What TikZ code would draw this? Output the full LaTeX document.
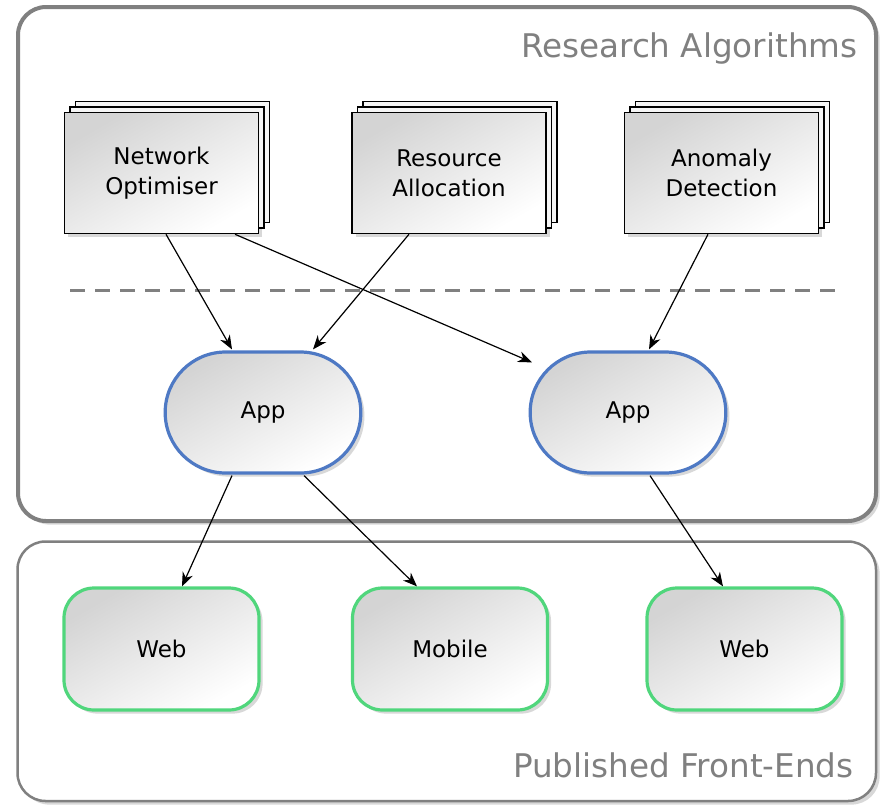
\documentclass[tikz,border=0pt]{standalone}
\usepackage{fontspec}
\setmainfont{DejaVu Sans}
\usetikzlibrary{positioning}
\usetikzlibrary{shapes.misc,shadows,arrows.meta}

\definecolor{appblue}{RGB}{78,121,196}
\definecolor{webgreen}{RGB}{80,214,124}
\definecolor{framegray}{RGB}{128,128,128}

\begin{document}
\begin{tikzpicture}[x=0.5pt,y=-0.5pt,
    softfill/.style={top color=black!17, bottom color=white, shading angle=30},
    softshadow/.style={drop shadow={shadow xshift=1.8pt, shadow yshift=-1.8pt, fill=black!30, opacity=0.5}},
    layer/.style={copy shadow={shadow xshift=#1, shadow yshift=#1, fill=black!4, draw=black, line width=0.75pt}},
    frame/.style={draw=framegray, fill=white, rounded corners=14pt, softshadow},
    title/.style={text=framegray, font=\fontsize{16.3}{20}\selectfont, anchor=base east, inner sep=0pt},
    algo/.style={rectangle, draw=black, line width=0.75pt, minimum width=97pt, minimum height=60.5pt,
        align=center, font=\fontsize{11.5}{15}\selectfont, softfill, softshadow,
        layer=5.5pt, layer=2.75pt},
    app/.style={rounded rectangle, draw=appblue, line width=1.6pt, minimum width=104.5pt, minimum height=60.5pt,
        font=\fontsize{11.5}{15}\selectfont, softfill, softshadow},
    front/.style={rectangle, rounded corners=15pt, draw=webgreen, line width=1.6pt, minimum width=97.5pt,
        minimum height=61pt, font=\fontsize{11.5}{15}\selectfont, softfill, softshadow},
    link/.style={-{Stealth[length=7pt, width=5.5pt, inset=2.2pt]}, line width=0.6pt}]

    \useasboundingbox (0,0) rectangle (880,805);

    % layer frames
    \draw[frame, line width=2pt] (18,7) rectangle (876,521);
    \draw[frame, line width=1.25pt] (17.5,541.5) rectangle (876,801);
    \node[title] (research) at (858,57) {Research Algorithms};
    \node[title] (published) at (854,777) {Published Front-Ends};

    % research algorithms
    \node[algo] (netopt) at (161.5,173) {Network\\Optimiser};
    \node[algo] (resalloc) at (449,173) {Resource\\Allocation};
    \node[algo] (anomaly) at (721.5,173) {Anomaly\\Detection};

    % separator
    \coordinate (sepw) at (70,290);
    \coordinate (sepe) at (835,290);
    \draw[framegray, line width=1.5pt, dash pattern=on 7.5pt off 5pt] (sepw) -- (sepe);

    % apps
    \node[app] (app1) at (263,412.5) {App};
    \node[app] (app2) at (628,412.5) {App};

    % front-ends
    \node[front] (web1) at (161.5,649) {Web};
    \node[front] (mobile) at (450,649) {Mobile};
    \node[front] (web2) at (744.5,649) {Web};

    % algorithms to apps
    \draw[link] ([shift={(4.5,0)}]netopt.south) -- ([shift={(-31,-1)}]app1.north);
    \draw[link] ([shift={(73.5,0)}]netopt.south) -- ([shift={(-96,12)}]app2.north);
    \draw[link] ([shift={(-40,0)}]resalloc.south) -- ([shift={(50,-1)}]app1.north);
    \draw[link] ([shift={(-13.5,0)}]anomaly.south) -- ([shift={(21,-1)}]app2.north);

    % apps to front-ends
    \draw[link] ([shift={(-31,1)}]app1.south) -- ([shift={(20.5,0)}]web1.north);
    \draw[link] ([shift={(41,1)}]app1.south) -- ([shift={(-33,0)}]mobile.north);
    \draw[link] ([shift={(22,1)}]app2.south) -- ([shift={(-21.5,0)}]web2.north);

\end{tikzpicture}
\end{document}
